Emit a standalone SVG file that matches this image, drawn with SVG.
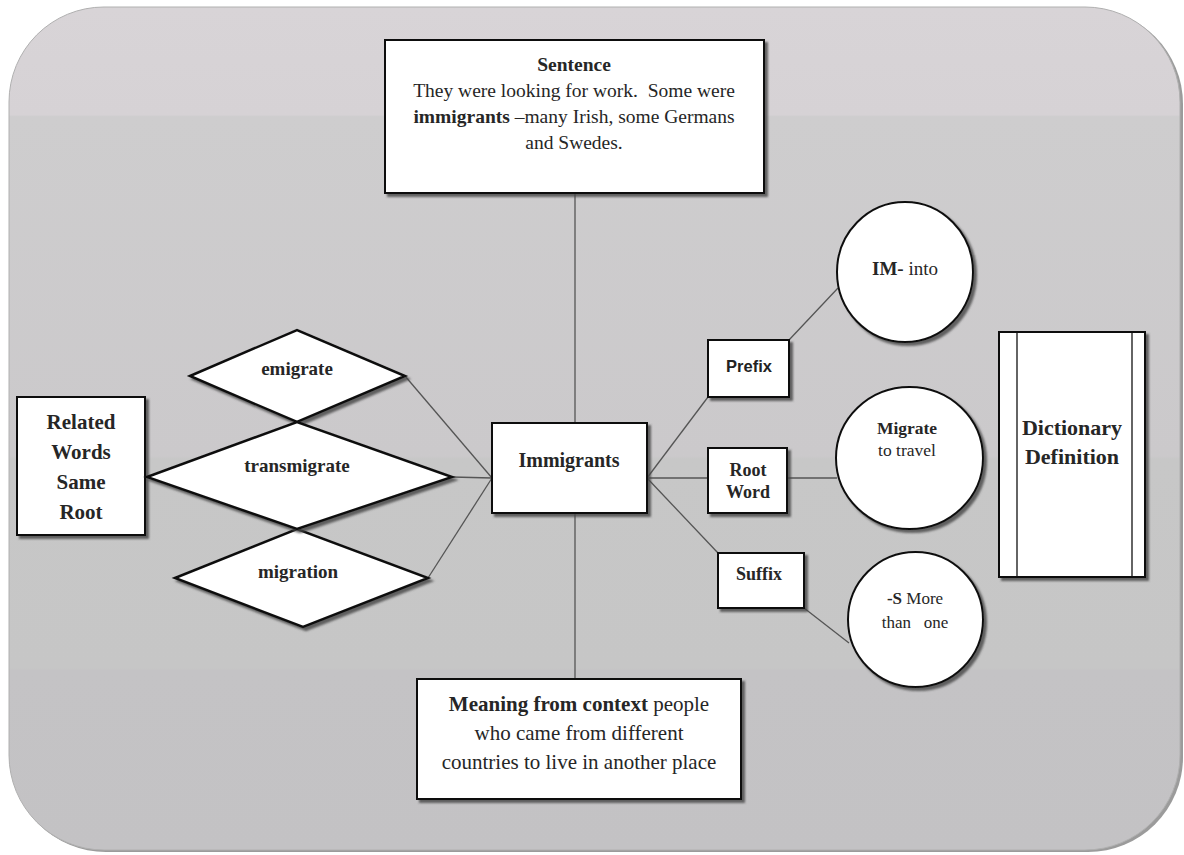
<svg xmlns="http://www.w3.org/2000/svg" width="1184" height="855" viewBox="0 0 1184 855">
<style>
.node{fill:#fff;stroke:#111;stroke-width:2;filter:url(#sh)}
.dia{fill:#fff;stroke:#111;stroke-width:2.5;filter:url(#sh)}
.conn{stroke:#555;stroke-width:1.3;fill:none}
.serif{font-family:"Liberation Serif","Times New Roman",serif;fill:#262626}
.b{font-weight:bold}
.sans{font-family:"Liberation Sans",Arial,sans-serif;fill:#222}
</style>
<defs>
<filter id="sh" x="-10%" y="-10%" width="130%" height="130%">
<feDropShadow dx="3" dy="3" stdDeviation="1" flood-color="#444" flood-opacity="0.8"/>
</filter>
<linearGradient id="bg" x1="0" y1="0" x2="0" y2="1">
<stop offset="0" stop-color="#d8d4d7"/>
<stop offset="0.128" stop-color="#d6d2d5"/>
<stop offset="0.13" stop-color="#cecdce"/>
<stop offset="0.533" stop-color="#cbc9cb"/>
<stop offset="0.536" stop-color="#c7c7c7"/>
<stop offset="0.784" stop-color="#c6c6c6"/>
<stop offset="0.787" stop-color="#c4c3c5"/>
<stop offset="1" stop-color="#c3c2c4"/>
</linearGradient>
</defs>
<rect x="0" y="0" width="1184" height="855" fill="#fff"/>
<rect x="11" y="9" width="1172" height="843" rx="95" fill="#9b9b9b"/>
<rect x="9" y="7" width="1171" height="843" rx="95" fill="url(#bg)" stroke="#b0b0b0" stroke-width="1"/>

<g id="connectors">
<line class="conn" x1="575" y1="193" x2="575" y2="423"/>
<line class="conn" x1="575" y1="513" x2="575" y2="679"/>
<line class="conn" x1="405" y1="376" x2="492" y2="478"/>
<line class="conn" x1="452" y1="477" x2="492" y2="478"/>
<line class="conn" x1="428" y1="578" x2="492" y2="478"/>
<line class="conn" x1="647" y1="478" x2="708" y2="397"/>
<line class="conn" x1="647" y1="478" x2="708" y2="478"/>
<line class="conn" x1="647" y1="478" x2="718" y2="553"/>
<line class="conn" x1="789" y1="340" x2="838" y2="288"/>
<line class="conn" x1="787" y1="478" x2="837" y2="478"/>
<line class="conn" x1="804" y1="608" x2="849" y2="643"/>
</g>

<g id="sentence">
<rect class="node" x="385" y="40" width="379" height="153"/>
<text class="serif b" x="574" y="71" font-size="19.5" text-anchor="middle">Sentence</text>
<text class="serif" x="574" y="97" font-size="19.5" text-anchor="middle" xml:space="preserve">They were looking for work.  Some were</text>
<text class="serif" x="574" y="123" font-size="19.5" text-anchor="middle"><tspan font-weight="bold">immigrants</tspan> –many Irish, some Germans</text>
<text class="serif" x="574" y="149" font-size="19.5" text-anchor="middle">and Swedes.</text>
</g>

<g id="immigrants">
<rect class="node" x="492" y="423" width="155" height="90"/>
<text class="serif b" x="569" y="467" font-size="20" text-anchor="middle">Immigrants</text>
</g>

<g id="meaning">
<rect class="node" x="417" y="679" width="324" height="120"/>
<text class="serif" x="579" y="711" font-size="21" text-anchor="middle"><tspan font-weight="bold">Meaning from context</tspan> people</text>
<text class="serif" x="579" y="740" font-size="21" text-anchor="middle">who came from different</text>
<text class="serif" x="579" y="769" font-size="21" text-anchor="middle">countries to live in another place</text>
</g>

<g id="related">
<rect class="node" x="17" y="397" width="128" height="138"/>
<text class="serif b" x="81" y="429" font-size="21" text-anchor="middle">Related</text>
<text class="serif b" x="81" y="459" font-size="21" text-anchor="middle">Words</text>
<text class="serif b" x="81" y="489" font-size="21" text-anchor="middle">Same</text>
<text class="serif b" x="81" y="519" font-size="21" text-anchor="middle">Root</text>
</g>

<g id="emigrate">
<polygon class="dia" points="190,376 297,330 405,376 297,422"/>
</g>
<g id="migration">
<polygon class="dia" points="175,578 297,529 428,578 303,627"/>
</g>
<g id="transmigrate">
<polygon class="dia" points="147,477 297,422 452,477 297,529"/>
</g>
<g id="diamond-labels">
<text class="serif b" x="297" y="375" font-size="19" text-anchor="middle" fill="#333">emigrate</text>
<text class="serif b" x="297" y="472" font-size="19" text-anchor="middle" fill="#333">transmigrate</text>
<text class="serif b" x="298" y="578" font-size="19" text-anchor="middle" fill="#333">migration</text>
</g>

<g id="prefix">
<rect class="node" x="708" y="340" width="81" height="57"/>
<text class="sans" x="749" y="372" font-size="16.5" font-weight="bold" text-anchor="middle">Prefix</text>
</g>

<g id="rootword">
<rect class="node" x="708" y="448" width="79" height="65"/>
<text class="serif b" x="748" y="476" font-size="18" text-anchor="middle">Root</text>
<text class="serif b" x="748" y="498" font-size="18" text-anchor="middle">Word</text>
</g>

<g id="suffix">
<rect class="node" x="718" y="553" width="86" height="55"/>
<text class="serif b" x="759" y="580" font-size="18" text-anchor="middle">Suffix</text>
</g>

<g id="im-into">
<ellipse class="node" cx="905" cy="272" rx="68" ry="70"/>
<text class="serif" x="905" y="275" font-size="19" text-anchor="middle"><tspan font-weight="bold">IM-</tspan> into</text>
</g>

<g id="migrate">
<ellipse class="node" cx="909.5" cy="458" rx="73.5" ry="71"/>
<text class="serif b" x="907" y="434" font-size="17.5" text-anchor="middle">Migrate</text>
<text class="serif" x="907" y="456" font-size="17.5" text-anchor="middle" fill="#666">to travel</text>
</g>

<g id="s-more">
<ellipse class="node" cx="915.5" cy="619.5" rx="67.5" ry="67.5"/>
<text class="serif" x="915" y="604" font-size="17" text-anchor="middle"><tspan font-weight="bold">-S</tspan> More</text>
<text class="serif" x="915" y="628" font-size="17" text-anchor="middle" xml:space="preserve">than   one</text>
</g>

<g id="dictionary">
<rect class="node" x="999" y="332" width="146" height="245"/>
<line x1="1017" y1="332" x2="1017" y2="577" stroke="#111" stroke-width="1.3"/>
<line x1="1132" y1="332" x2="1132" y2="577" stroke="#111" stroke-width="1.3"/>
<text class="serif b" x="1072" y="435" font-size="22" text-anchor="middle">Dictionary</text>
<text class="serif b" x="1072" y="464" font-size="22" text-anchor="middle">Definition</text>
</g>
</svg>
